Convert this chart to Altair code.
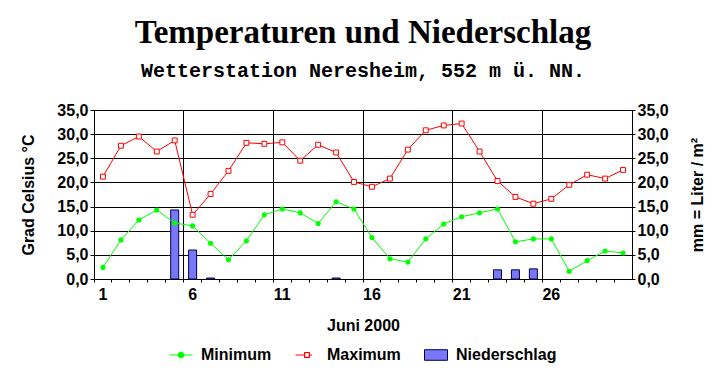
import altair as alt
import pandas as pd

# ---- data ----
days = list(range(1, 31))
t_min = [2.4, 8.1, 12.2, 14.3, 11.6, 11.0, 7.4, 4.0, 7.9, 13.3,
         14.5, 13.7, 11.5, 16.0, 14.5, 8.6, 4.2, 3.5, 8.3, 11.4,
         12.9, 13.7, 14.5, 7.7, 8.3, 8.3, 1.6, 3.8, 5.8, 5.4]
t_max = [21.2, 27.6, 29.5, 26.4, 28.7, 13.3, 17.6, 22.4, 28.2, 28.0,
         28.3, 24.5, 27.8, 26.2, 20.1, 19.1, 20.8, 26.8, 30.8, 31.8,
         32.2, 26.4, 20.3, 17.0, 15.6, 16.6, 19.5, 21.6, 20.8, 22.6]
rain = [0, 0, 0, 0, 14.3, 6.0, 0.2, 0, 0, 0,
        0, 0, 0, 0.2, 0, 0, 0, 0, 0, 0,
        0, 0, 1.9, 1.9, 2.1, 0, 0, 0, 0, 0]
series = ["Minimum", "Maximum", "Niederschlag"]
y_ticks = [0, 5, 10, 15, 20, 25, 30, 35]

title_text = "Temperaturen und Niederschlag"
subtitle_text = "Wetterstation Neresheim, 552 m ü. NN."
x_title = "Juni 2000"
y_left_title = "Grad Celsius °C"
y_right_title = "mm = Liter / m²"

GREEN = "#00ff00"
RED = "#ff0000"
BAR_FILL = "#7878f8"
BAR_STROKE = "#000050"
FONT = "Liberation Sans"

df_min = pd.DataFrame({"day": days, "value": t_min})
df_max = pd.DataFrame({"day": days, "value": t_max})
df_rain = pd.DataFrame({"day": days, "value": rain})
df_leg = pd.DataFrame({"series": series, "day": [1, 1, 1], "value": [0, 0, 0]})

label_expr = "replace(format(datum.value, '.1f'), '.', ',')"

x_enc = alt.X(
    "day:O",
    scale=alt.Scale(type="band", domain=days, paddingInner=0, paddingOuter=0),
    axis=alt.Axis(
        title=x_title, titleFont=FONT, titleFontSize=16, titleFontWeight="bold",
        titleColor="black", titleBaseline="alphabetic", titleY=51,
        bandPosition=0, labelAngle=0, labelOverlap=False,
        labelExpr="(datum.value - 1) % 5 == 0 ? datum.label : ''",
        labelFont=FONT, labelFontSize=16, labelFontWeight="bold", labelColor="black",
        labelPadding=4, tickSize=3, tickColor="black", domainColor="black",
        grid=True, gridColor="black", gridWidth=1,
        gridOpacity={"condition": {"test": "datum.value > 1 && (datum.value - 1) % 5 == 0",
                                   "value": 1}, "value": 0},
    ),
)

y_scale = alt.Scale(domain=[0, 35], nice=False, zero=True)
y_left = alt.Y(
    "value:Q", scale=y_scale,
    axis=alt.Axis(
        values=y_ticks, labelExpr=label_expr, title=y_left_title,
        titleFont=FONT, titleFontSize=16, titleFontWeight="bold", titleColor="black",
        titleX=-66, titleY=84.5, titleBaseline="middle", titleAngle=270,
        labelFont=FONT, labelFontSize=16, labelFontWeight="bold", labelColor="black",
        labelPadding=2, tickSize=4, tickColor="black", domainColor="black",
        grid=True, gridColor="black", gridWidth=1,
    ),
)

line_min = alt.Chart(df_min).mark_line(color=GREEN, strokeWidth=1).encode(x=x_enc, y=y_left)
pt_min = alt.Chart(df_min).mark_point(filled=True, color=GREEN, size=26, opacity=1).encode(x=x_enc, y=y_left)
line_max = alt.Chart(df_max).mark_line(color=RED, strokeWidth=1).encode(x=x_enc, y=y_left)
pt_max = alt.Chart(df_max).mark_point(shape="square", filled=True, fill="white", stroke=RED,
                                      strokeWidth=1, size=24, opacity=1).encode(x=x_enc, y=y_left)

legend_paths = [
    "M-1,0L1,0M-0.26,0A0.26,0.26,0,1,1,0.26,0A0.26,0.26,0,1,1,-0.26,0Z",
    "M-1,0L-0.22,0M0.22,0L0.43,0M-0.22,-0.22L0.22,-0.22L0.22,0.22L-0.22,0.22Z"
    "M-0.2,-0.2L-0.2,0.2L0.2,0.2L0.2,-0.2Z",
    "M-1,-0.46L1,-0.46L1,0.46L-1,0.46Z",
]
leg = alt.Legend(
    title=None, orient="none", direction="horizontal", legendX=75, legendY=233,
    labelFont=FONT, labelFontSize=16, labelFontWeight="bold", labelColor="black",
    symbolSize=529, symbolStrokeWidth=1, labelOffset=8, columnPadding=21, padding=0,
    symbolOpacity=1,
)
legend_layer = alt.Chart(df_leg).transform_filter("datum.value > 100").mark_point(
    filled=True, opacity=1).encode(
    x=x_enc, y=y_left,
    fill=alt.Fill("series:N", scale=alt.Scale(domain=series, range=[GREEN, RED, BAR_FILL]), legend=leg),
    stroke=alt.Stroke("series:N", scale=alt.Scale(domain=series, range=[GREEN, RED, BAR_STROKE]), legend=leg),
    shape=alt.Shape("series:N", scale=alt.Scale(domain=series, range=legend_paths), legend=leg),
)

temps = alt.layer(line_min, line_max, pt_min, pt_max, legend_layer)

bars = alt.Chart(df_rain).transform_filter("datum.value > 0").mark_bar(
    size=8, fill=BAR_FILL, stroke=BAR_STROKE, strokeWidth=1).encode(
    x=x_enc,
    y=alt.Y("value:Q", scale=y_scale, axis=alt.Axis(
        orient="right", values=y_ticks, labelExpr=label_expr, title=y_right_title,
        titleFont=FONT, titleFontSize=16, titleFontWeight="bold", titleColor="black",
        titleX=65, titleY=84.5, titleBaseline="middle", titleAngle=270,
        labelFont=FONT, labelFontSize=16, labelFontWeight="bold", labelColor="black",
        labelPadding=2, tickSize=3, tickColor="black", domainColor="black", grid=False,
    )),
)

chart = alt.layer(bars, temps).resolve_scale(y="independent").properties(
    width=538, height=169,
    title=alt.TitleParams(
        text=title_text, subtitle=subtitle_text,
        font="Liberation Serif", fontSize=33, fontWeight="bold", color="black",
        subtitleFont="Liberation Mono", subtitleFontSize=20, subtitleFontWeight="bold",
        subtitleColor="black", subtitlePadding=11, anchor="middle", offset=21,
    ),
    autosize="none",
    padding={"left": 94, "top": 110, "right": 93, "bottom": 105},
).configure_view(strokeWidth=0).configure(background="white")

chart.save("out.html", embed_options={"renderer": "svg", "actions": False})
